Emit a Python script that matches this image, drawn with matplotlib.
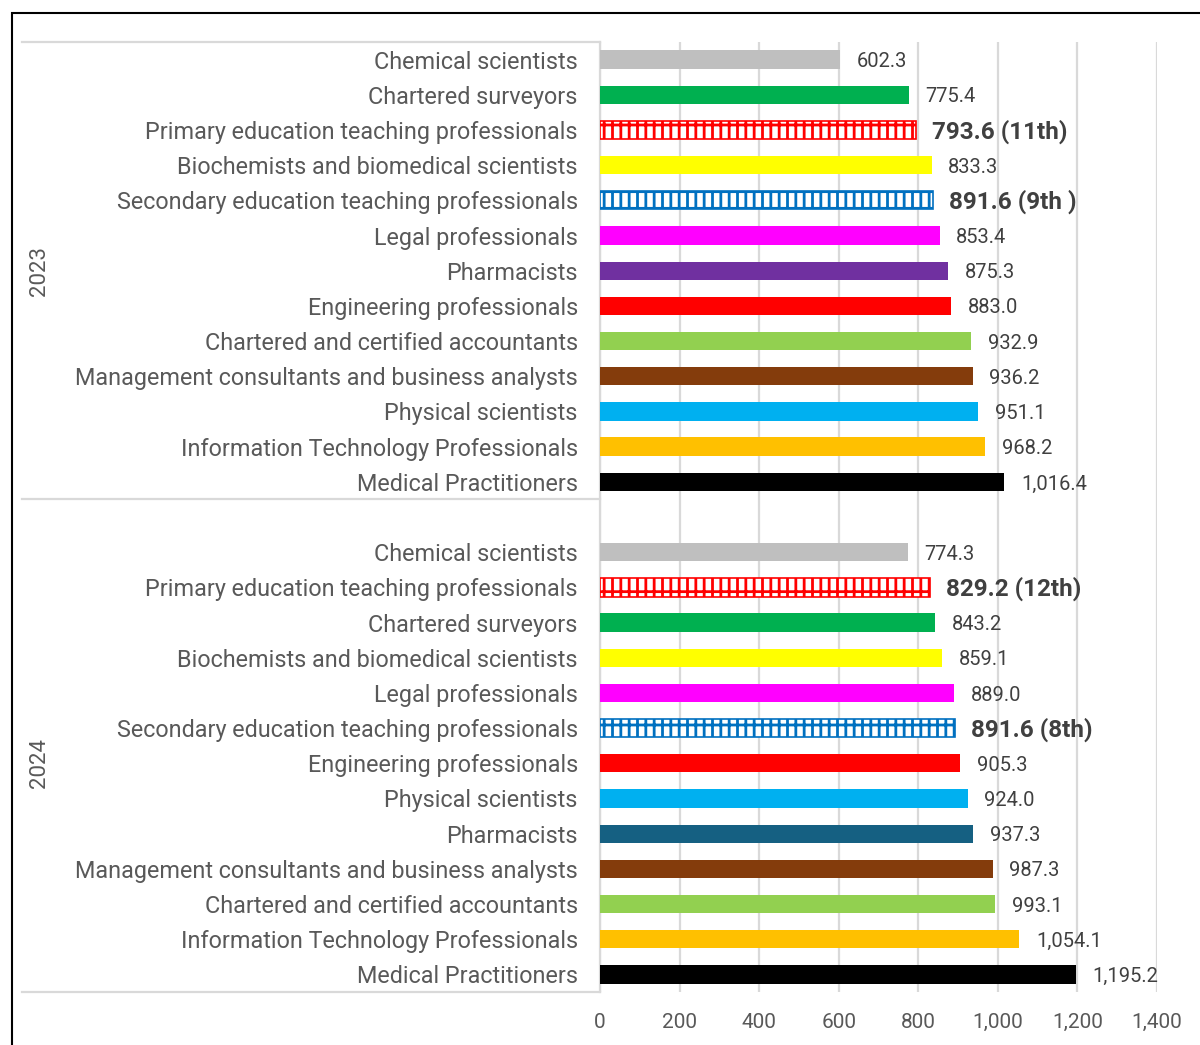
import matplotlib.pyplot as plt
from matplotlib.patches import Rectangle
from matplotlib.lines import Line2D
import matplotlib.transforms as mtransforms

# Data, listed top to bottom as shown in the chart
jobs_2023 = ['Chemical scientists', 'Chartered surveyors',
             'Primary education teaching professionals',
             'Biochemists and biomedical scientists',
             'Secondary education teaching professionals',
             'Legal professionals', 'Pharmacists', 'Engineering professionals',
             'Chartered and certified accountants',
             'Management consultants and business analysts',
             'Physical scientists', 'Information Technology Professionals',
             'Medical Practitioners']
vals_2023 = [602.3, 775.4, 793.6, 833.3, 837.0, 853.4, 875.3, 883.0,
             932.9, 936.2, 951.1, 968.2, 1016.4]
labels_2023 = ['602.3', '775.4', '793.6 (11th)', '833.3', '891.6 (9th )',
               '853.4', '875.3', '883.0', '932.9', '936.2', '951.1', '968.2',
               '1,016.4']
colors_2023 = ['#BFBFBF', '#00B050', 'hatch_red', '#FFFF00', 'hatch_blue',
               '#FF00FF', '#7030A0', '#FF0000', '#92D050', '#843C0C',
               '#00B0F0', '#FFC000', '#000000']

jobs_2024 = ['Chemical scientists', 'Primary education teaching professionals',
             'Chartered surveyors', 'Biochemists and biomedical scientists',
             'Legal professionals',
             'Secondary education teaching professionals',
             'Engineering professionals', 'Physical scientists', 'Pharmacists',
             'Management consultants and business analysts',
             'Chartered and certified accountants',
             'Information Technology Professionals', 'Medical Practitioners']
vals_2024 = [774.3, 829.2, 843.2, 859.1, 889.0, 891.6, 905.3, 924.0, 937.3,
             987.3, 993.1, 1054.1, 1195.2]
labels_2024 = ['774.3', '829.2 (12th)', '843.2', '859.1', '889.0',
               '891.6 (8th)', '905.3', '924.0', '937.3', '987.3', '993.1',
               '1,054.1', '1,195.2']
colors_2024 = ['#BFBFBF', 'hatch_red', '#00B050', '#FFFF00', '#FF00FF',
               'hatch_blue', '#FF0000', '#00B0F0', '#156082', '#843C0C',
               '#92D050', '#FFC000', '#000000']

years = ['2023', '2024']
xticks = [0, 200, 400, 600, 800, 1000, 1200, 1400]

plt.rcParams['font.family'] = ['Roboto', 'DejaVu Sans']
plt.rcParams['hatch.linewidth'] = 2.0

fig = plt.figure(figsize=(12, 10.45), dpi=100)
ax = fig.add_axes([0.5, 0.0507, 0.4642, 0.9091])

# slot positions: 2023 at 0..12, empty slot 13, 2024 at 14..26
pos_2023 = list(range(13))
pos_2024 = list(range(14, 27))

hatch_cols = {'hatch_red': '#FF0000', 'hatch_blue': '#0070C0'}

for pos, vals, labs, cols in [(pos_2023, vals_2023, labels_2023, colors_2023),
                              (pos_2024, vals_2024, labels_2024, colors_2024)]:
    for p, v, lab, c in zip(pos, vals, labs, cols):
        if c in hatch_cols:
            ax.barh(p, v, height=0.52, color='white', edgecolor=hatch_cols[c],
                    hatch='+|', linewidth=1.2, zorder=3)
            ax.annotate(lab, (v, p), xytext=(11.5, -1), textcoords='offset points',
                        va='center', ha='left', fontsize=17.5, fontweight='bold',
                        color='#404040')
        else:
            ax.barh(p, v, height=0.52, color=c, zorder=3)
            ax.annotate(lab, (v, p), xytext=(12, -1.5), textcoords='offset points',
                        va='center', ha='left', fontsize=14.5, color='#404040')

ax.set_ylim(26.5, -0.5)
ax.set_xlim(0, 1400)
ax.set_xticks(xticks)
ax.set_xticklabels([f'{t:,}' for t in xticks])
ax.set_yticks(pos_2023 + pos_2024)
ax.set_yticklabels(jobs_2023 + jobs_2024)
ax.tick_params(axis='y', length=0, pad=16, labelsize=16.8, labelcolor='#595959')
ax.tick_params(axis='x', length=0, pad=15, labelsize=15, labelcolor='#595959')

ax.grid(axis='x', color='#D9D9D9', linewidth=1.6, zorder=0)
ax.set_axisbelow(True)
for s in ['top', 'right', 'bottom']:
    ax.spines[s].set_visible(False)
ax.spines['left'].set_color('#D9D9D9')
ax.spines['left'].set_linewidth(1.6)

# group separator lines of the multi-level category axis
trans = mtransforms.blended_transform_factory(fig.transFigure, ax.transData)
for yb in [-0.5, 12.5, 26.5]:
    fig.add_artist(Line2D([22 / 1200, 0.5], [yb, yb], transform=trans,
                          color='#D9D9D9', linewidth=1.6))

# year labels
for yr, mid in zip(years, [6, 20]):
    fig.text(40 / 1200, 0, yr, transform=trans, rotation=90, va='center',
             ha='center', fontsize=16, color='#595959')
    fig.texts[-1].set_y(mid)

# outer chart border
fig.add_artist(Rectangle((12 / 1200, -0.05), 1.1, 1 - 13 / 1045 + 0.05,
                         transform=fig.transFigure, fill=False,
                         edgecolor='black', linewidth=1.5))

fig.savefig('out.png', dpi=100)
